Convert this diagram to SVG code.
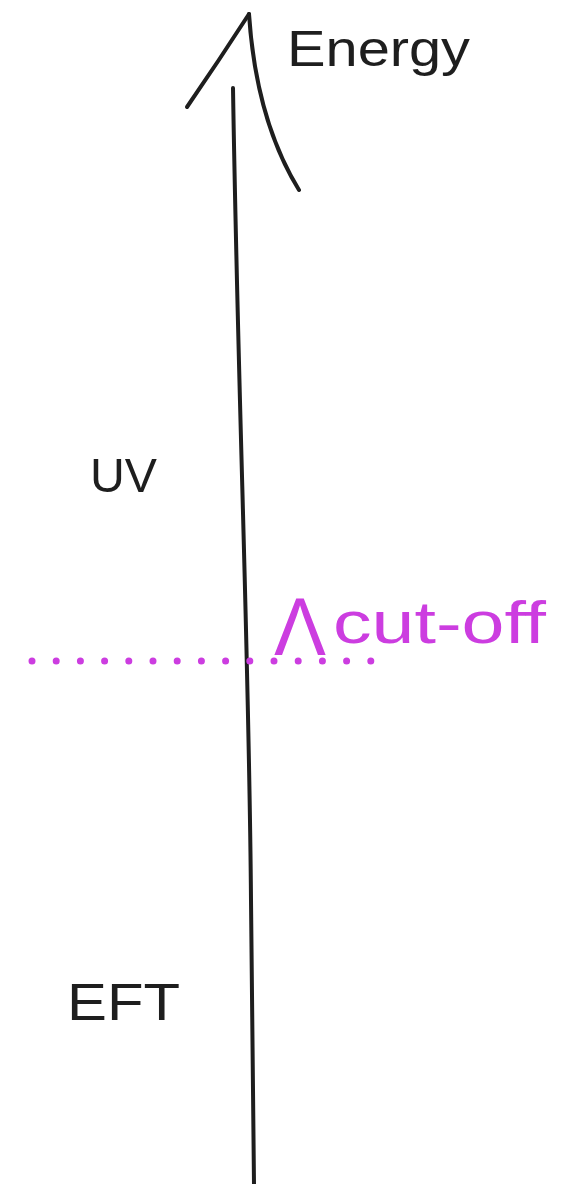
<svg xmlns="http://www.w3.org/2000/svg" width="575" height="1184" viewBox="0 0 575 1184">
<style>
.ink{fill:none;stroke:#1e1e1e;stroke-width:4;stroke-linecap:round;stroke-linejoin:round}
.lbl{font-family:"Liberation Sans","DejaVu Sans",sans-serif;fill:#1e1e1e}
.cut{font-family:"Liberation Sans","DejaVu Sans",sans-serif;fill:#cc3de0}
</style>
<rect width="575" height="1184" fill="#ffffff"/>
<g id="connectors">
<path id="axis-shaft" class="ink" d="M233,88 C238,400 249,650 251,900 L254,1184"/>
<path id="axis-head-left" class="ink" d="M187,107 Q218,62 249,14"/>
<path id="axis-head-right" class="ink" d="M249,14 Q256,120 299,190"/>
<line id="cutoff-line" x1="32" y1="661" x2="371" y2="661" stroke="#cc3de0" stroke-width="7" stroke-linecap="round" stroke-dasharray="0 24.2"/>
</g>
<g id="energy-label"><text class="lbl" x="287" y="66" font-size="50" textLength="183" lengthAdjust="spacingAndGlyphs">Energy</text></g>
<g id="uv-label"><text class="lbl" x="90" y="492" font-size="48" textLength="67" lengthAdjust="spacingAndGlyphs">UV</text></g>
<g id="eft-label"><text class="lbl" x="67" y="1020" font-size="52" textLength="113" lengthAdjust="spacingAndGlyphs">EFT</text></g>
<g id="cutoff-label">
<text class="cut" x="274" y="655" font-size="82" textLength="52" lengthAdjust="spacingAndGlyphs">Λ</text>
<text class="cut" x="333" y="643" font-size="60" textLength="213" lengthAdjust="spacingAndGlyphs">cut-off</text>
</g>
</svg>
